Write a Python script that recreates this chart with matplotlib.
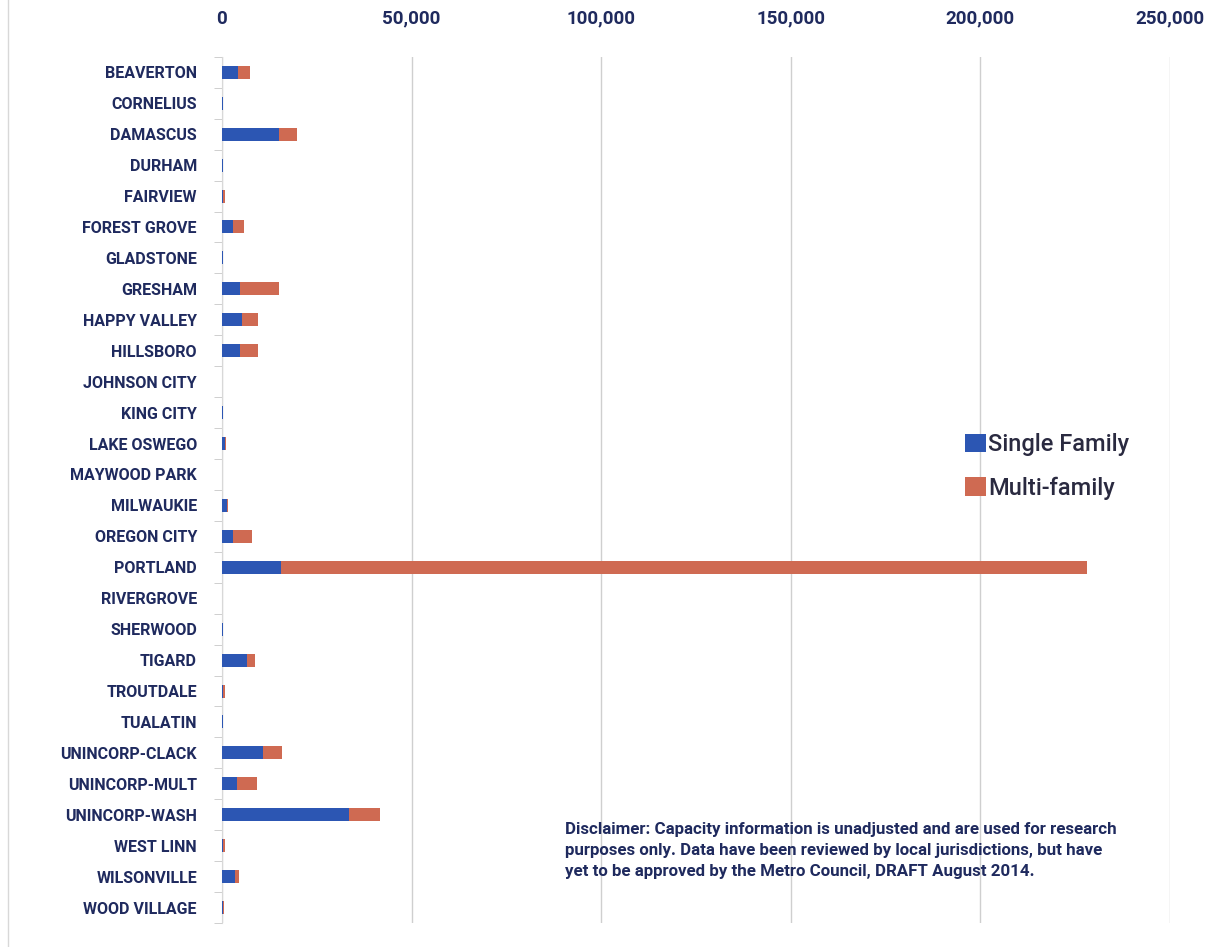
"""Buildable housing capacity by jurisdiction, stacked horizontal bars."""

import numpy as np
import matplotlib
matplotlib.use('Agg')
import matplotlib.pyplot as plt
from matplotlib.ticker import FuncFormatter, MultipleLocator

plt.rcParams['font.family'] = ['Roboto', 'DejaVu Sans']

cities = ['BEAVERTON', 'CORNELIUS', 'DAMASCUS', 'DURHAM', 'FAIRVIEW',
          'FOREST GROVE', 'GLADSTONE', 'GRESHAM', 'HAPPY VALLEY', 'HILLSBORO',
          'JOHNSON CITY', 'KING CITY', 'LAKE OSWEGO', 'MAYWOOD PARK',
          'MILWAUKIE', 'OREGON CITY', 'PORTLAND', 'RIVERGROVE', 'SHERWOOD',
          'TIGARD', 'TROUTDALE', 'TUALATIN', 'UNINCORP-CLACK',
          'UNINCORP-MULT', 'UNINCORP-WASH', 'WEST LINN', 'WILSONVILLE',
          'WOOD VILLAGE']
single_family = [4200, 150, 15000, 250, 200, 2900, 250, 4700, 5400, 4700,
                 80, 300, 700, 50, 1200, 2800, 15600, 80, 250, 6500, 300,
                 250, 10900, 4000, 33600, 400, 3400, 150]
multi_family = [3200, 50, 4800, 100, 700, 2800, 50, 10300, 4100, 4900,
                20, 50, 400, 20, 500, 5200, 212600, 20, 50, 2200, 600,
                100, 4800, 5300, 8100, 300, 1100, 400]
series_names = ['Single Family', 'Multi-family']

text_col = '#1f2a5e'
blue = '#2c56b3'
red = '#cf6a52'

fig = plt.figure(figsize=(12.09, 9.47), dpi=100)
fig.patch.set_facecolor('white')
ax = fig.add_axes([0.1836, 0.0253, 0.7841, 0.9147])

y = np.arange(len(cities))
sf = np.array(single_family)
mf = np.array(multi_family)
h1 = ax.barh(y, sf, height=0.42, color=blue, label=series_names[0], zorder=3)
h2 = ax.barh(y, mf, left=sf, height=0.42, color=red, label=series_names[1], zorder=3)

ax.set_ylim(len(cities) - 0.5, -0.5)
ax.set_xlim(0, 250000)
ax.xaxis.set_major_locator(MultipleLocator(50000))
ax.xaxis.set_major_formatter(FuncFormatter(lambda v, p: '{:,.0f}'.format(v)))
ax.xaxis.tick_top()
ax.tick_params(axis='x', length=0, pad=21, labelsize=13.5, labelcolor=text_col)
for lbl in ax.get_xticklabels():
    lbl.set_fontweight('bold')

ax.set_yticks(y)
ax.set_yticklabels(cities, fontsize=11.5, fontweight='bold', color=text_col)
ax.set_yticks(np.arange(-0.5, len(cities)), minor=True)
ax.tick_params(axis='y', which='major', length=0, pad=18)
ax.tick_params(axis='y', which='minor', length=6, color='#c8c8c8')

ax.grid(axis='x', color='#cfcfcf', linewidth=1, zorder=0)
for side in ['top', 'right', 'bottom']:
    ax.spines[side].set_visible(False)
ax.spines['left'].set_color('#d8d8d8')

fig.legend(handles=[h1, h2], labels=series_names, loc='upper left',
           bbox_to_anchor=(0.781, 0.565), frameon=False, fontsize=17,
           handlelength=0.85, handleheight=0.85, handletextpad=0.1,
           labelspacing=0.85, labelcolor='#2a2a40',
           prop={'size': 17, 'weight': 'medium'})

disclaimer = ('Disclaimer: Capacity information is unadjusted and are used for research\n'
              'purposes only. Data have been reviewed by local jurisdictions, but have\n'
              'yet to be approved by the Metro Council, DRAFT August 2014.')
fig.text(0.467, 0.132, disclaimer, fontsize=12.2, fontweight='bold',
         color=text_col, ha='left', va='top', linespacing=1.5)

fig.add_artist(plt.Line2D([0.007, 0.007], [0.0, 1.0], color='#d8d8d8', linewidth=1))

plt.savefig('out.png', dpi=100)
